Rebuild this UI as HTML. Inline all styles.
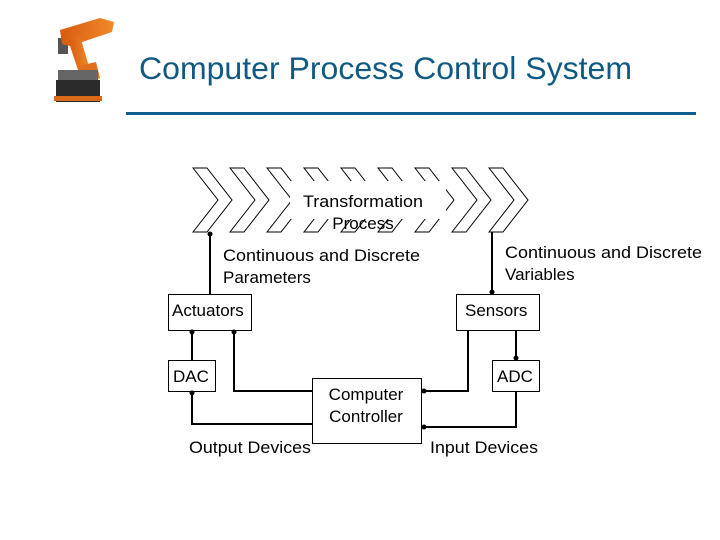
<!DOCTYPE html>
<html><head><meta charset="utf-8"><style>
body{margin:0;width:720px;height:540px;background:#fff;overflow:hidden}
svg{display:block}
text{font-family:"Liberation Sans",sans-serif}
</style></head><body>
<svg width="720" height="540" viewBox="0 0 720 540">
<defs>
<linearGradient id="rg" x1="0" x2="1"><stop offset="0" stop-color="#d85a10"/><stop offset="1" stop-color="#f08a2a"/></linearGradient>
</defs>
<g>
<rect x="58" y="38" width="10" height="16" fill="#555"/>
<polygon points="60,30 100,18 114,22 112,32 70,46 62,44" fill="url(#rg)"/>
<polygon points="68,40 80,36 90,70 80,76" fill="url(#rg)"/>
<polygon points="78,66 96,62 100,78 84,84" fill="#e07020"/>
<rect x="58" y="70" width="40" height="10" fill="#666"/>
<rect x="56" y="80" width="44" height="22" fill="#2a2a2a"/>
<rect x="54" y="96" width="48" height="5" fill="#d86a1a"/>
</g>
<text x="139" y="79" font-size="31.5" fill="#0f5a85" textLength="493" lengthAdjust="spacingAndGlyphs">Computer Process Control System</text>
<rect x="126" y="112" width="570" height="3" fill="#0f5f8f"/>
<g fill="#fff" stroke="#000" stroke-width="1">
<polygon points="193,168 207,168 232,200 207,232 193,232 218,200"/>
<polygon points="230,168 244,168 269,200 244,232 230,232 255,200"/>
<polygon points="267,168 281,168 306,200 281,232 267,232 292,200"/>
<polygon points="304,168 318,168 343,200 318,232 304,232 329,200"/>
<polygon points="341,168 355,168 380,200 355,232 341,232 366,200"/>
<polygon points="378,168 392,168 417,200 392,232 378,232 403,200"/>
<polygon points="415,168 429,168 454,200 429,232 415,232 440,200"/>
<polygon points="452,168 466,168 491,200 466,232 452,232 477,200"/>
<polygon points="489,168 503,168 528,200 503,232 489,232 514,200"/>
</g>
<rect x="290" y="181" width="156" height="38" fill="#fff"/>
<g font-size="17">
<text x="363" y="207" text-anchor="middle" textLength="120" lengthAdjust="spacingAndGlyphs">Transformation</text>
<text x="363" y="229" text-anchor="middle">Process</text>
<text x="223" y="261" textLength="197" lengthAdjust="spacingAndGlyphs">Continuous and Discrete</text>
<text x="223" y="283">Parameters</text>
<text x="505" y="258" textLength="197" lengthAdjust="spacingAndGlyphs">Continuous and Discrete</text>
<text x="505" y="280">Variables</text>
</g>
<g fill="#fff" stroke="#000" stroke-width="1">
<rect x="168.5" y="294.5" width="83" height="36"/>
<rect x="456.5" y="294.5" width="83" height="36"/>
<rect x="168.5" y="360.5" width="47" height="31"/>
<rect x="492.5" y="360.5" width="47" height="31"/>
<rect x="312.5" y="378.5" width="109" height="65"/>
</g>
<g font-size="17">
<text x="172" y="316">Actuators</text>
<text x="465" y="316">Sensors</text>
<text x="173" y="382">DAC</text>
<text x="497" y="382">ADC</text>
<text x="366" y="400" text-anchor="middle">Computer</text>
<text x="366" y="422" text-anchor="middle">Controller</text>
<text x="189" y="453" textLength="122" lengthAdjust="spacingAndGlyphs">Output Devices</text>
<text x="430" y="453" textLength="108" lengthAdjust="spacingAndGlyphs">Input Devices</text>
</g>
<g fill="none" stroke="#000" stroke-width="2">
<path d="M210,294 V234"/>
<path d="M492,232 V292"/>
<path d="M192,360 V332"/>
<path d="M312,391 H234 V332"/>
<path d="M312,424 H192 V393"/>
<path d="M468,331 V391 H424"/>
<path d="M516,331 V358"/>
<path d="M516,392 V427 H424"/>
</g>
<g fill="#000">
<circle cx="210" cy="234" r="2.5"/>
<circle cx="492" cy="292" r="2.5"/>
<circle cx="192" cy="332" r="2.5"/>
<circle cx="234" cy="332" r="2.5"/>
<circle cx="192" cy="393" r="2.5"/>
<circle cx="424" cy="391" r="2.5"/>
<circle cx="516" cy="358" r="2.5"/>
<circle cx="424" cy="427" r="2.5"/>
</g>
</svg>
</body></html>
